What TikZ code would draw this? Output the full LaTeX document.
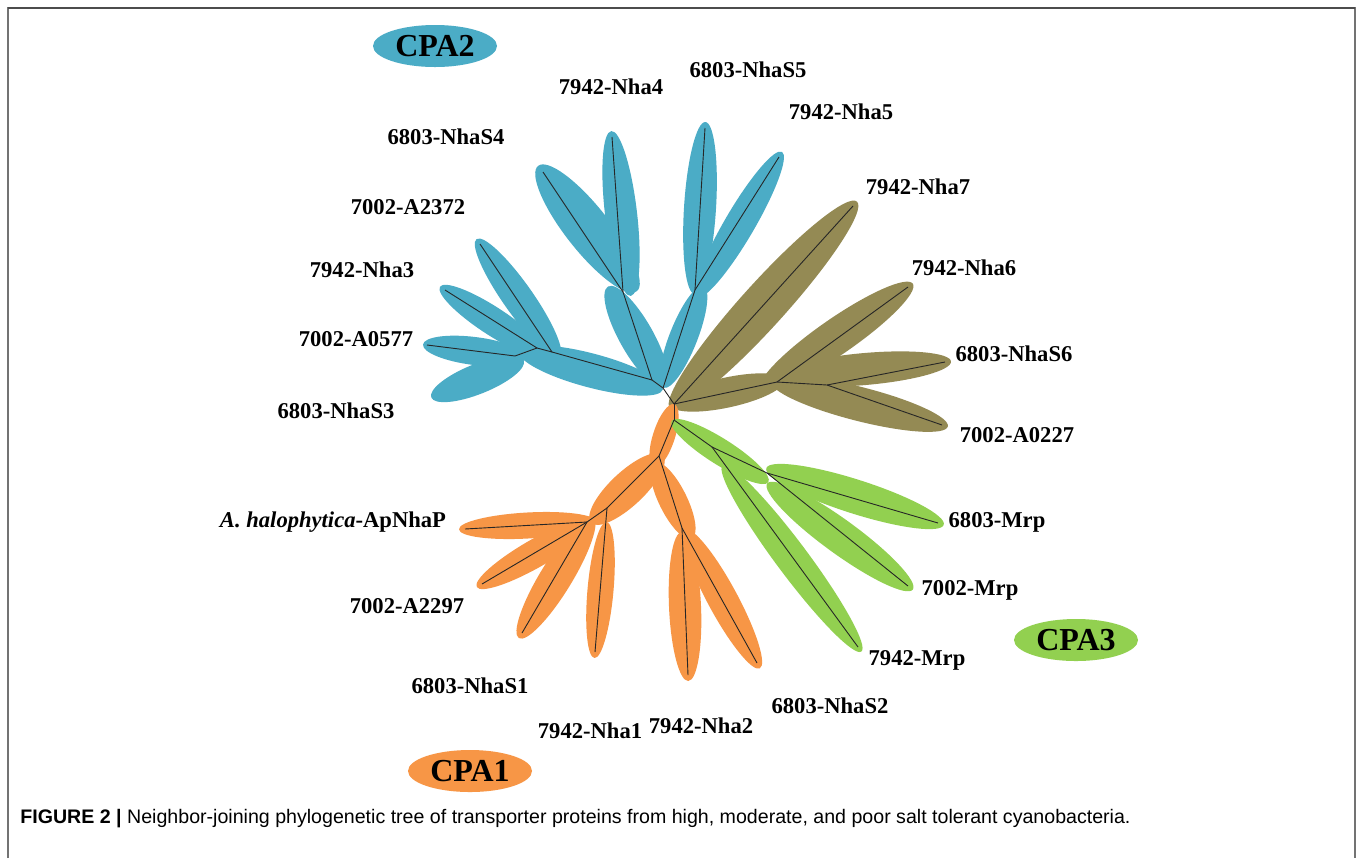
\documentclass[tikz,border=0pt]{standalone}
\usepackage{fontspec}
\setmainfont{Liberation Serif}
\newfontfamily\capfont{Liberation Sans}
\usetikzlibrary{calc,shapes.geometric}
\definecolor{cblue}{RGB}{75,172,198}
\definecolor{corange}{RGB}{247,150,70}
\definecolor{cgreen}{RGB}{146,208,80}
\definecolor{colive}{RGB}{148,138,84}
% lobe: from, to, half width (px), extra length (px), colour
\newcommand\lobe[5]{%
  \path[fill=#5] let \p1=(#1), \p2=(#2),
    \n1={atan2(\y2-\y1,\x2-\x1)}, \n2={veclen(\x2-\x1,\y2-\y1)} in
    ($(#1)!0.5!(#2)$) ellipse[x radius={\n2/2+#4*0.5pt}, y radius={#3*0.5pt}, rotate=\n1];}
\tikzset{
  treeline/.style={draw=black!85, line width=0.45pt},
  lab/.style={font=\fontsize{11.3}{13}\selectfont\bfseries, inner sep=0pt},
  cpa/.style={ellipse, font=\fontsize{16}{18}\selectfont\bfseries, inner sep=0pt, minimum width=62pt, minimum height=21pt},
  frame/.style={draw=black!55, line width=1pt}
}
\begin{document}
\begin{tikzpicture}[x=0.5pt,y=-0.5pt]
\useasboundingbox (0,0) rectangle (1358,858);
\fill[white] (0,0) rectangle (1358,858);
\draw[frame] (7.5,858) -- (7.5,8) -- (1355,8) -- (1355,858);
\draw[draw=black!70, line width=0.9pt] (7.5,8) -- (1355,8);

% ---------- coordinates ----------
\coordinate (C) at (674,404);
\coordinate (C2) at (674,420);
% blue
\coordinate (B0) at (663,388);
\coordinate (B1) at (652,380);
\coordinate (JB1) at (623,292);
\coordinate (JB2) at (695,290);
\coordinate (JB3) at (552,352);
\coordinate (JB4) at (537,348);
\coordinate (JB5) at (515,356);
\coordinate (tNha4) at (612,137);
\coordinate (tNhaS4) at (543,172);
\coordinate (tNhaS5) at (705,128);
\coordinate (tNha5) at (779,157);
\coordinate (tA2372) at (480,244);
\coordinate (tNha3) at (445,290);
\coordinate (tA0577) at (427,345);
\coordinate (tNhaS3) at (435,396);
% olive
\coordinate (JO1) at (777,382);
\coordinate (JO2) at (827,385);
\coordinate (tNha7) at (853,206);
\coordinate (tNha6) at (908,287);
\coordinate (tNhaS6) at (945,362);
\coordinate (tA0227) at (942,425);
% orange
\coordinate (JR1) at (659,456);
\coordinate (JR2) at (607,508);
\coordinate (JR3) at (587,522);
\coordinate (JR4) at (682,528);
\coordinate (tApNhaP) at (465,529);
\coordinate (tA2297) at (482,584);
\coordinate (tNhaS1) at (522,633);
\coordinate (tNha1) at (595,652);
\coordinate (tNha2) at (688,675);
\coordinate (tNhaS2) at (757,663);
% green
\coordinate (JG1) at (712,447);
\coordinate (JG2) at (767,473);
\coordinate (tMrp7942) at (858,647);
\coordinate (tMrp6803) at (938,523);
\coordinate (tMrp7002) at (908,586);

% ---------- lobes ----------
% blue
\coordinate (bl1a) at (663,384); \coordinate (bl1b) at (610,290);
\lobe{bl1a}{bl1b}{17}{4}{cblue}
\coordinate (bl2a) at (665,384); \coordinate (bl2b) at (702,290);
\lobe{bl2a}{bl2b}{14}{4}{cblue}
\coordinate (bl3a) at (630,290);
\lobe{bl3a}{tNha4}{16}{6}{cblue}
\coordinate (bl4a) at (632,285);
\lobe{bl4a}{tNhaS4}{22}{8}{cblue}
\coordinate (bl5a) at (695,288);
\lobe{bl5a}{tNhaS5}{16}{6}{cblue}
\coordinate (bl6a) at (700,292);
\lobe{bl6a}{tNha5}{15}{6}{cblue}
\coordinate (bl7a) at (657,388); \coordinate (bl7b) at (525,353);
\lobe{bl7a}{bl7b}{17}{6}{cblue}
\coordinate (bl8a) at (556,352);
\lobe{bl8a}{tA2372}{15}{6}{cblue}
\coordinate (bl9a) at (540,352);
\lobe{bl9a}{tNha3}{14}{6}{cblue}
\coordinate (bl10a) at (522,357);
\lobe{bl10a}{tA0577}{14}{4}{cblue}
\coordinate (bl11a) at (520,362);
\lobe{bl11a}{tNhaS3}{15}{4}{cblue}
% olive
\lobe{C}{tNha7}{22}{6}{colive}
\coordinate (ol1b) at (780,381);
\lobe{C}{ol1b}{15}{4}{colive}
\coordinate (ol2a) at (765,386);
\lobe{ol2a}{tNha6}{18}{6}{colive}
\coordinate (ol3a) at (785,376);
\lobe{ol3a}{tNhaS6}{16}{6}{colive}
\coordinate (ol4a) at (777,383);
\lobe{ol4a}{tA0227}{17}{6}{colive}
% orange
\coordinate (or1a) at (673,408); \coordinate (or1b) at (655,464);
\lobe{or1a}{or1b}{11}{4}{corange}
\coordinate (or2a) at (660,458); \coordinate (or2b) at (594,520);
\lobe{or2a}{or2b}{17}{4}{corange}
\coordinate (or3a) at (656,466); \coordinate (or3b) at (690,535);
\lobe{or3a}{or3b}{14}{4}{corange}
\coordinate (or4a) at (590,522);
\lobe{or4a}{tApNhaP}{13}{6}{corange}
\lobe{or4a}{tA2297}{14}{6}{corange}
\lobe{or4a}{tNhaS1}{16}{6}{corange}
\coordinate (or5a) at (606,528);
\lobe{or5a}{tNha1}{13}{6}{corange}
\coordinate (or6a) at (682,538);
\lobe{or6a}{tNha2}{16}{6}{corange}
\coordinate (or7a) at (688,535);
\lobe{or7a}{tNhaS2}{15}{6}{corange}
% green
\coordinate (gr1a) at (675,423); \coordinate (gr1b) at (765,480);
\lobe{gr1a}{gr1b}{13}{4}{cgreen}
\coordinate (gr2a) at (726,470);
\lobe{gr2a}{tMrp7942}{16}{6}{cgreen}
\coordinate (gr3a) at (772,470);
\lobe{gr3a}{tMrp6803}{17}{6}{cgreen}
\coordinate (gr4a) at (772,487);
\lobe{gr4a}{tMrp7002}{17}{6}{cgreen}

% ---------- branches ----------
\draw[treeline] (C) -- (C2);
\draw[treeline] (C) -- (B0);
\draw[treeline] (B0) -- (B1);
\draw[treeline] (B0) -- (JB2);
\draw[treeline] (B1) -- (JB1);
\draw[treeline] (B1) -- (JB3);
\draw[treeline] (JB1) -- (tNha4);
\draw[treeline] (JB1) -- (tNhaS4);
\draw[treeline] (JB2) -- (tNhaS5);
\draw[treeline] (JB2) -- (tNha5);
\draw[treeline] (JB3) -- (tA2372);
\draw[treeline] (JB3) -- (JB4);
\draw[treeline] (JB4) -- (tNha3);
\draw[treeline] (JB4) -- (JB5);
\draw[treeline] (JB5) -- (tA0577);
\draw[treeline] (C) -- (tNha7);
\draw[treeline] (C) -- (JO1);
\draw[treeline] (JO1) -- (tNha6);
\draw[treeline] (JO1) -- (JO2);
\draw[treeline] (JO2) -- (tNhaS6);
\draw[treeline] (JO2) -- (tA0227);
\draw[treeline] (C2) -- (JR1);
\draw[treeline] (JR1) -- (JR2);
\draw[treeline] (JR2) -- (JR3);
\draw[treeline] (JR3) -- (tApNhaP);
\draw[treeline] (JR3) -- (tA2297);
\draw[treeline] (JR3) -- (tNhaS1);
\draw[treeline] (JR2) -- (tNha1);
\draw[treeline] (JR1) -- (JR4);
\draw[treeline] (JR4) -- (tNha2);
\draw[treeline] (JR4) -- (tNhaS2);
\draw[treeline] (C2) -- (JG1);
\draw[treeline] (JG1) -- (tMrp7942);
\draw[treeline] (JG1) -- (JG2);
\draw[treeline] (JG2) -- (tMrp6803);
\draw[treeline] (JG2) -- (tMrp7002);

% ---------- labels ----------
\node[lab] (lNha4) at (611,87) {7942-Nha4};
\node[lab] (lNhaS5) at (748,70) {6803-NhaS5};
\node[lab] (lNha5) at (841,112) {7942-Nha5};
\node[lab] (lNhaS4) at (446,137) {6803-NhaS4};
\node[lab] (lNha7) at (918,187) {7942-Nha7};
\node[lab] (lA2372) at (408,207) {7002-A2372};
\node[lab] (lNha6) at (964,268) {7942-Nha6};
\node[lab] (lNha3) at (362,270) {7942-Nha3};
\node[lab] (lA0577) at (356,339) {7002-A0577};
\node[lab] (lNhaS6) at (1014,354) {6803-NhaS6};
\node[lab] (lNhaS3) at (336,411) {6803-NhaS3};
\node[lab] (lA0227) at (1017,435) {7002-A0227};
\node[lab] (lApNhaP) at (333,522) {\itshape A. halophytica\upshape-ApNhaP};
\node[lab] (lMrp6803) at (997,522) {6803-Mrp};
\node[lab] (lMrp7002) at (970,590) {7002-Mrp};
\node[lab] (lA2297) at (407,606) {7002-A2297};
\node[lab] (lMrp7942) at (917,660) {7942-Mrp};
\node[lab] (lNhaS1) at (470,686) {6803-NhaS1};
\node[lab] (lNhaS2) at (830,706) {6803-NhaS2};
\node[lab] (lNha1) at (590,731) {7942-Nha1};
\node[lab] (lNha2) at (701,726) {7942-Nha2};

\node[cpa, fill=cblue] (cpa2) at (435,46) {CPA2};
\node[cpa, fill=corange] (cpa1) at (470,771) {CPA1};
\node[cpa, fill=cgreen] (cpa3) at (1076,640) {CPA3};

\node[anchor=base west, inner sep=0pt, font=\capfont\fontsize{9.8}{12}\selectfont] (cap) at (20,823)
  {\textbf{FIGURE 2 |} Neighbor-joining phylogenetic tree of transporter proteins from high, moderate, and poor salt tolerant cyanobacteria.};
\end{tikzpicture}
\end{document}
